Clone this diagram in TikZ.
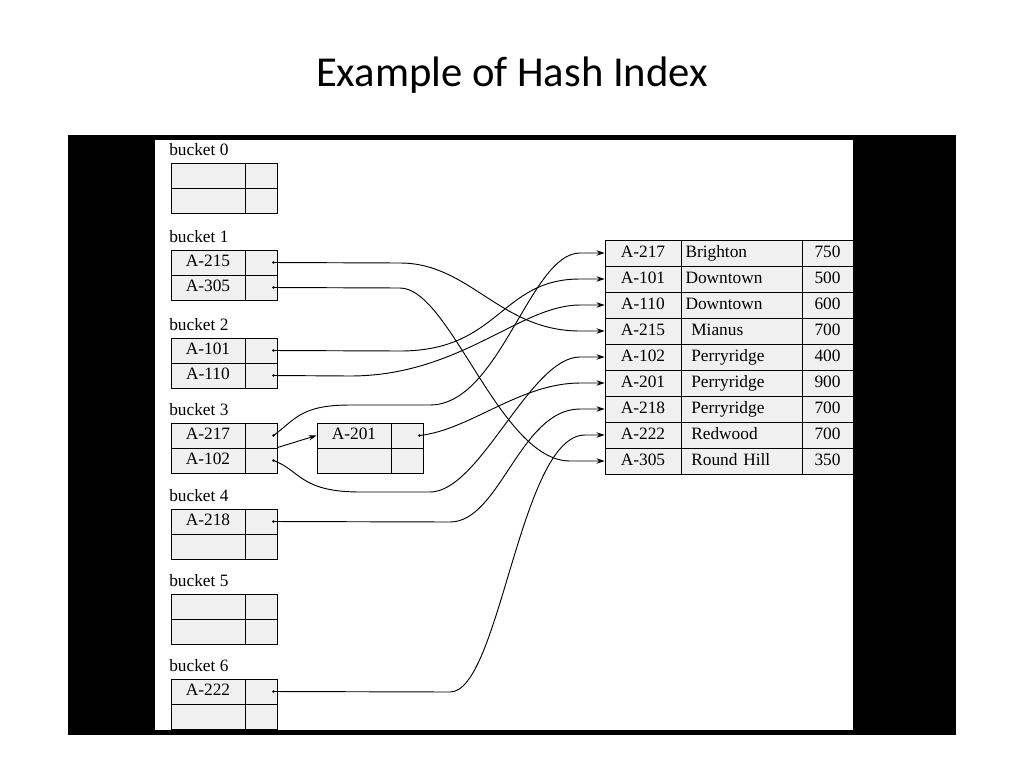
\documentclass[tikz,border=0pt]{standalone}
\usepackage{fontspec}
\setmainfont{Liberation Serif}
\newfontfamily\titlefont{Carlito}
\usetikzlibrary{arrows.meta}
\begin{document}
\begin{tikzpicture}[x=0.75pt,y=-0.75pt,
  cell/.style={draw,line width=0.7pt,fill=#1,minimum height=18.75pt,inner sep=0pt,text height=8.5pt,text depth=2.5pt,font=\fontsize{13}{13}\selectfont},
  cell/.default=gray!12,
  key/.style={cell,minimum width=55.5pt},
  ptr/.style={cell,minimum width=24pt},
  tcell/.style={cell,minimum height=19.5pt},
  lab/.style={anchor=west,inner sep=0pt,font=\fontsize{13}{13}\selectfont},
  link/.style={line width=0.7pt,-{Stealth[length=6pt,width=4pt]}},
  dot/.style={circle,fill,inner sep=0pt,minimum size=2pt}]
\useasboundingbox (0,0) rectangle (1024,768);
\fill[white] (0,0) rectangle (1024,768);
\node[font=\titlefont\fontsize{32}{32}\selectfont] (title) at (512,75) {Example of Hash Index};
\fill[black] (68,135) rectangle (956,735);
\fill[white] (155,140) rectangle (853,730);
% buckets
\foreach \b/\y/\ka/\kb in {0/163//,1/250/A-215/A-305,2/338/A-101/A-110,3/423/A-217/A-102,4/509/A-218/,5/594//,6/679/A-222/}{
  \node[lab] (bl\b) at (169,\y-13) {bucket \b};
  \node[key] (k\b a) at (208,\y+12.5) {\ka};
  \node[ptr] (p\b a) at (261,\y+12.5) {};
  \node[key] (k\b b) at (208,\y+37.5) {\kb};
  \node[ptr] (p\b b) at (261,\y+37.5) {};
}
% overflow
\node[key] (ka) at (354,435.5) {A-201};
\node[ptr] (pa) at (407,435.5) {};
\node[key] (kb) at (354,460.5) {};
\node[ptr] (pb) at (407,460.5) {};
% table
\foreach \i/\a/\n/\v in {1/A-217/Brighton/750,2/A-101/Downtown/500,3/A-110/Downtown/600,4/A-215/\ Mianus/700,5/A-102/\ Perryridge/400,6/A-201/\ Perryridge/900,7/A-218/\ Perryridge/700,8/A-222/\ Redwood/700,9/A-305/\ Round Hill/350}{
  \node[tcell,minimum width=57pt] (r\i) at (643,227+26*\i) {\a};
  \node[tcell,minimum width=90.75pt,text width=84pt,align=left] (n\i) at (741.5,227+26*\i) {\n};
  \node[tcell,minimum width=38.25pt] (v\i) at (827.5,227+26*\i) {\v};
}
% dots
\foreach \p in {p1a,p1b,p2a,p2b,p3a,p3b,p4a,p6a,pa}{\node[dot] (d\p) at ([xshift=-3pt]\p.east) {};}
\draw[link] (dp1a.center) -- (400,263) .. controls (470,263) and (500,331) .. (580,331) -- (r4.west);
\draw[link] (dp1b.center) -- (400,288) .. controls (450,288) and (500,461) .. (570,461) -- (r9.west);
\draw[link] (dp2a.center) -- (400,351) .. controls (500,351) and (500,279) .. (580,279) -- (r2.west);
\draw[link] (dp2b.center) -- (350,376) .. controls (460,376) and (520,305) .. (580,305) -- (r3.west);
\draw[link] (dp3a.center) .. controls (295,420) and (300,405) .. (350,405) -- (430,405) .. controls (500,405) and (530,253) .. (580,253) -- (r1.west);
\draw[link] (p3b.north east) -- (ka.west);
\draw[link] (dp3b.center) .. controls (300,470) and (300,492) .. (360,492) -- (430,492) .. controls (480,492) and (530,357) .. (580,357) -- (r5.west);
\draw[link] (dpa.center) .. controls (470,430) and (520,383) .. (580,383) -- (r6.west);
\draw[link] (dp4a.center) -- (450,522) .. controls (500,522) and (520,409) .. (580,409) -- (r7.west);
\draw[link] (dp6a.center) -- (450,692) .. controls (500,692) and (520,435) .. (585,435) -- (r8.west);
\end{tikzpicture}
\end{document}
